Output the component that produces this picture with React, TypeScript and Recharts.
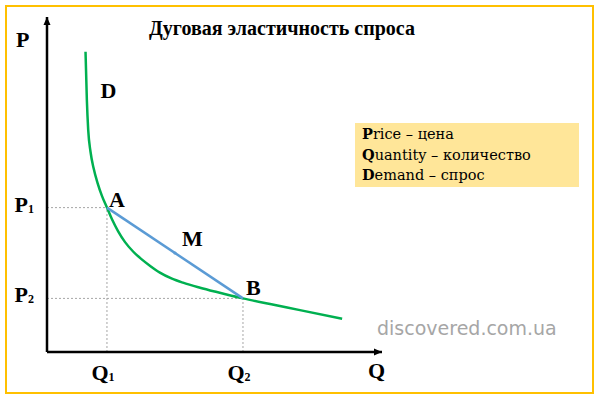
import { ComposedChart, Line, XAxis, YAxis, ReferenceLine, ReferenceDot } from "recharts"

// demand curve D (quantity 0..100, price 0..100)
const demandQ = [11.5, 11.9, 12.3, 13.0, 13.9, 15.1, 16.4, 17.9, 19.4, 21.2, 23.3, 25.7, 28.1, 30.8, 33.7, 37.3, 40.6, 45.7, 50.7, 58.5, 66.6, 75.5, 88.1]
const demandP = [89.6, 75.2, 66.3, 59.7, 54.9, 50.4, 46.6, 43.1, 39.6, 36.1, 32.8, 30.0, 27.8, 25.7, 23.7, 21.9, 20.7, 19.2, 17.9, 16.0, 14.3, 12.5, 9.9]

// points A and B on the curve
const pointNames = ["A", "B"]
const pointQ = [17.9, 58.5]
const pointP = [43.1, 16.0]

const qTickLabels = ["Q1", "Q2"]
const pTickLabels = ["P1", "P2"]

const legendTerms = ["Price", "Quantity", "Demand"]
const legendMeanings = ["цена", "количество", "спрос"]

const demandData = demandQ.map((q, i) => ({ q, p: demandP[i] }))
const chordData = pointQ.map((q, i) => ({ q, p: pointP[i] }))
const midpoint = { q: (pointQ[0] + pointQ[1]) / 2, p: (pointP[0] + pointP[1]) / 2 }

const serif = "'Liberation Serif', 'Times New Roman', serif"
const green = "#00b050"
const blue = "#5b9bd5"

const Letter = ({ x, y, text, anchor = "start" }: any) => (
  <text x={x} y={y} textAnchor={anchor} fontFamily={serif} fontWeight="bold" fontSize={22} fill="#000">
    {text[0]}
    {text.length > 1 && (
      <tspan fontSize={12} dy={1}>
        {text.slice(1)}
      </tspan>
    )}
  </text>
)

const QTick = ({ x, y, payload }: any) => {
  const i = pointQ.indexOf(payload.value)
  return <Letter x={x - 4} y={y + 26} text={qTickLabels[i]} anchor="middle" />
}

const PTick = ({ x, y, payload }: any) => {
  const i = pointP.indexOf(payload.value)
  return <Letter x={x - 11} y={y + 4} text={pTickLabels[i]} anchor="end" />
}

export default function App() {
  return (
    <div style={{ position: "absolute", left: 0, top: 0, width: 600, height: 399, background: "#fff" }}>
      <svg width={600} height={399} style={{ position: "absolute", left: 0, top: 0 }}>
        <rect x={6} y={6} width={587} height={387} fill="none" stroke="#ffc000" strokeWidth={2} />
        <text x={282} y={35} textAnchor="middle" fontFamily={serif} fontWeight="bold" fontSize={20}>
          Дуговая эластичность спроса
        </text>
        <rect x={355} y={123} width={224} height={64} fill="#ffe699" />
        {legendTerms.map((t, i) => (
          <text key={t} x={362} y={139 + i * 20.5} fontFamily="'DejaVu Serif', serif" fontSize={14.5} fill="#000">
            <tspan fontWeight="bold">{t[0]}</tspan>
            {t.slice(1)} – {legendMeanings[i]}
          </text>
        ))}
        <text x={377} y={335} fontFamily="'DejaVu Sans', sans-serif" fontSize={19} fill="#a6a6a6">
          discovered.com.ua
        </text>
      </svg>
      <div style={{ position: "absolute", left: 0, top: 0 }}>
        <ComposedChart width={600} height={399} margin={{ top: 17, right: 218, bottom: 0, left: 0 }}>
          <XAxis
            dataKey="q"
            type="number"
            domain={[0, 100]}
            ticks={pointQ}
            tick={<QTick />}
            tickLine={false}
            tickSize={0}
            height={47}
            axisLine={{ stroke: "#000", strokeWidth: 2.5 }}
            allowDataOverflow
          />
          <YAxis
            type="number"
            domain={[0, 100]}
            ticks={pointP}
            tick={<PTick />}
            tickLine={false}
            tickSize={0}
            width={47}
            axisLine={{ stroke: "#000", strokeWidth: 2.5 }}
            allowDataOverflow
          />
          {pointQ.map((q, i) => (
            <ReferenceLine
              key={"h" + i}
              segment={[{ x: 0, y: pointP[i] }, { x: q, y: pointP[i] }]}
              stroke="#a6a6a6"
              strokeDasharray="2 2"
            />
          ))}
          {pointQ.map((q, i) => (
            <ReferenceLine
              key={"v" + i}
              segment={[{ x: q, y: 0 }, { x: q, y: pointP[i] }]}
              stroke="#a6a6a6"
              strokeDasharray="2 2"
            />
          ))}
          <Line
            data={demandData}
            dataKey="p"
            type="monotone"
            stroke={green}
            strokeWidth={2.5}
            dot={false}
            isAnimationActive={false}
          />
          <Line
            data={chordData}
            dataKey="p"
            type="linear"
            stroke={blue}
            strokeWidth={2.5}
            dot={false}
            isAnimationActive={false}
          />
          <ReferenceDot
            x={midpoint.q}
            y={midpoint.p}
            shape={(p: any) => (
              <g>
                <circle cx={p.cx} cy={p.cy} r={1.6} fill={blue} />
                <Letter x={p.cx + 7} y={p.cy - 7} text="M" />
              </g>
            )}
          />
          {pointQ.map((q, i) => (
            <ReferenceDot
              key={pointNames[i]}
              x={q}
              y={pointP[i]}
              shape={(p: any) => <Letter x={p.cx + (i === 0 ? 2 : 3)} y={p.cy - (i === 0 ? 1 : 3)} text={pointNames[i]} />}
            />
          ))}
          <ReferenceDot
            x={demandQ[0]}
            y={demandP[0]}
            shape={(p: any) => <Letter x={p.cx + 15} y={p.cy + 46} text="D" />}
          />
          <ReferenceDot
            x={0}
            y={100}
            shape={(p: any) => (
              <g>
                <path d={`M${p.cx - 3.5},${p.cy + 8} L${p.cx},${p.cy} L${p.cx + 3.5},${p.cy + 8} Z`} fill="#000" />
                <Letter x={p.cx - 31} y={p.cy + 30} text="P" />
              </g>
            )}
          />
          <ReferenceDot
            x={100}
            y={0}
            shape={(p: any) => (
              <g>
                <path d={`M${p.cx - 8},${p.cy - 3.5} L${p.cx},${p.cy} L${p.cx - 8},${p.cy + 3.5} Z`} fill="#000" />
                <Letter x={p.cx - 14} y={p.cy + 26} text="Q" />
              </g>
            )}
          />
        </ComposedChart>
      </div>
    </div>
  )
}
